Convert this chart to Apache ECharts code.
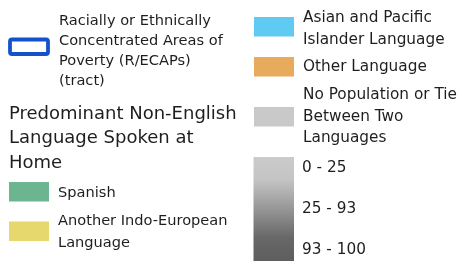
<!DOCTYPE html>
<html>
<head>
<meta charset="utf-8">
<script src="https://cdn.jsdelivr.net/npm/echarts@6/dist/echarts.min.js"></script>
<style>
    html, body { margin: 0; padding: 0; background: #fff; }
    #chart { width: 463px; height: 269px; }
</style>
</head>
<body>
<div id="chart"></div>
<script>
// legend content
var boundaryLines = ['Racially or Ethnically', 'Concentrated Areas of', 'Poverty (R/ECAPs)', '(tract)'];
var titleLines = ['Predominant Non-English', 'Language Spoken at', 'Home'];
var categoryLabels = [
    ['Spanish'],
    ['Another Indo-European', 'Language'],
    ['Asian and Pacific', 'Islander Language'],
    ['Other Language'],
    ['No Population or Tie', 'Between Two', 'Languages']
];
var categoryColors = ['#6db590', '#e6d86d', '#5fcbf3', '#e8aa5b', '#c9c9c9'];
var rangeLabels = ['0 - 25', '25 - 93', '93 - 100'];
var rangeColors = ['#cbcbcb', '#c4c4c4', '#969696', '#676767', '#5e5e5e'];

var FONT = '"DejaVu Sans", Verdana, sans-serif';
var TEXT_COLOR = '#1e1e1e';

function textLine(x, y, s, size) {
    return {
        type: 'text',
        x: x,
        y: y,
        style: {
            text: s,
            fill: TEXT_COLOR,
            font: size + 'px ' + FONT,
            verticalAlign: 'middle',
            align: 'left'
        }
    };
}

function build() {
    var els = [];
    var lh = 20;

    // R/ECAP outline box
    els.push({
        type: 'rect',
        shape: { x: 10, y: 39.5, width: 38, height: 14.5, r: 2 },
        style: { fill: '#fff', stroke: '#1253cc', lineWidth: 3.8 }
    });
    boundaryLines.forEach(function (s, i) {
        els.push(textLine(59, 21 + i * lh, s, 14.6));
    });

    // title
    titleLines.forEach(function (s, i) {
        els.push(textLine(9, 114 + i * 24.5, s, 18));
    });

    // category swatches: [column x, swatch top, first text line mid]
    var slots = [
        [9, 182, 193],
        [9, 221.5, 221.5],
        [254, 17, 18.5],
        [254, 57, 67],
        [254, 107, 95.5]
    ];
    categoryLabels.forEach(function (lines, i) {
        var sl = slots[i];
        var size = sl[0] < 100 ? 14.6 : 15.3;
        els.push({
            type: 'rect',
            shape: { x: sl[0], y: sl[1], width: 40, height: 19.5 },
            style: { fill: categoryColors[i] }
        });
        lines.forEach(function (s, j) {
            els.push(textLine(sl[0] + 49, sl[2] + j * 21.5, s, size));
        });
    });

    // gradient bar
    var stops = rangeColors.map(function (c, i) {
        return { offset: [0, 0.22, 0.5, 0.78, 1][i], color: c };
    });
    els.push({
        type: 'rect',
        shape: { x: 253.5, y: 157, width: 40.5, height: 104 },
        style: { fill: new echarts.graphic.LinearGradient(0, 0, 0, 1, stops) }
    });
    var rangeY = [168, 209.5, 250];
    rangeLabels.forEach(function (s, i) {
        els.push(textLine(302, rangeY[i], s, 15.3));
    });
    return els;
}

var chart = echarts.init(document.getElementById('chart'));
chart.setOption({
    backgroundColor: '#fff',
    animation: false,
    graphic: { elements: build() }
});
</script>
</body>
</html>
